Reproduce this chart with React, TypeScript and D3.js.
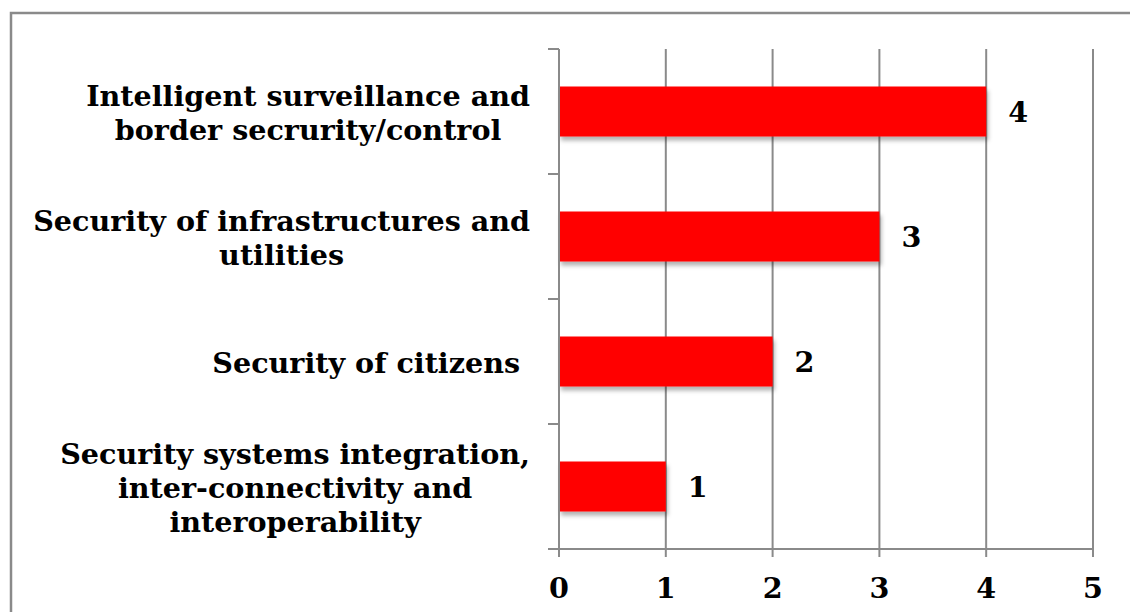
import React from "react";
import * as d3 from "d3";

const categories: string[] = [
  "Intelligent surveillance and\nborder secrurity/control",
  "Security of infrastructures and\nutilities",
  "Security of citizens ",
  "Security systems integration,\ninter-connectivity and\ninteroperability",
];
const values: number[] = [4, 3, 2, 1];
const xTicks: number[] = [0, 1, 2, 3, 4, 5];

const W = 1130;
const H = 612;
const FONT = "'DejaVu Serif', serif";
const FS = 28.6;
const LINE_H = 34;
const AXIS = "#8a8a8a";

function measure(text: string, size: number): number {
  if (typeof document === "undefined") return text.length * size * 0.6;
  const c = document.createElement("canvas");
  const ctx = c.getContext("2d");
  if (!ctx) return text.length * size * 0.6;
  ctx.font = `bold ${size}px 'DejaVu Serif', serif`;
  return ctx.measureText(text).width;
}

export default function App() {
  const x = d3.scaleLinear().domain([0, 5]).range([559, 1093]);
  const y = d3
    .scaleBand<string>()
    .domain(categories)
    .range([49, 549])
    .paddingInner(0.6)
    .paddingOuter(0.3);
  const step = y.step();
  const top = 49;
  const bottom = 549;
  const boundaries = d3.range(categories.length + 1).map((i) => top + i * step);
  const labelRight = 530;

  return (
    <div style={{ position: "fixed", left: 0, top: 0, width: W, height: H, background: "#fff" }}>
      <svg width={W} height={H} style={{ display: "block" }}>
        <defs>
          <filter id="shadow" x="-10%" y="-30%" width="130%" height="190%">
            <feDropShadow dx="2" dy="4" stdDeviation="2" floodColor="#000" floodOpacity="0.3" />
          </filter>
        </defs>
        <rect x={0} y={0} width={W} height={H} fill="#fff" />
        {/* outer frame */}
        <rect x={11} y={13} width={W + 20} height={H + 20} fill="none" stroke={AXIS} strokeWidth={2.5} />

        {/* gridlines */}
        {xTicks.filter((t) => t > 0).map((t) => (
          <line key={"g" + t} x1={x(t)} x2={x(t)} y1={top} y2={bottom} stroke={AXIS} strokeWidth={2} />
        ))}

        {/* bars */}
        {categories.map((c, i) => (
          <rect
            key={"b" + i}
            x={x(0)}
            y={y(c)!}
            width={x(values[i]) - x(0)}
            height={y.bandwidth()}
            fill="#ff0000"
            filter="url(#shadow)"
          />
        ))}

        {/* y axis */}
        <line x1={x(0)} x2={x(0)} y1={top} y2={bottom + 8} stroke={AXIS} strokeWidth={2} />
        {boundaries.map((b, i) => (
          <line key={"yt" + i} x1={548} x2={x(0)} y1={b} y2={b} stroke={AXIS} strokeWidth={2} />
        ))}
        {/* x axis */}
        <line x1={548} x2={x(5) + 1} y1={bottom} y2={bottom} stroke={AXIS} strokeWidth={2} />
        {xTicks.map((t) => (
          <line key={"xt" + t} x1={x(t)} x2={x(t)} y1={bottom} y2={bottom + 8} stroke={AXIS} strokeWidth={2} />
        ))}

        {/* x tick labels */}
        {xTicks.map((t) => (
          <text
            key={"xl" + t}
            x={x(t)}
            y={598}
            textAnchor="middle"
            fontFamily={FONT}
            fontWeight="bold"
            fontSize={FS}
            fill="#000"
          >
            {t}
          </text>
        ))}

        {/* value labels */}
        {categories.map((c, i) => (
          <text
            key={"v" + i}
            x={x(values[i]) + 22}
            y={y(c)! + y.bandwidth() / 2 + 10}
            fontFamily={FONT}
            fontWeight="bold"
            fontSize={FS}
            fill="#000"
          >
            {values[i]}
          </text>
        ))}

        {/* category labels */}
        {categories.map((c, i) => {
          const lines = c.split("\n");
          const maxW = d3.max(lines, (l) => measure(l, FS)) || 0;
          const cx = labelRight - maxW / 2;
          const center = y(c)! + y.bandwidth() / 2;
          const firstBaseline = center - ((lines.length - 1) * LINE_H) / 2 + 11;
          return (
            <text
              key={"c" + i}
              textAnchor="middle"
              fontFamily={FONT}
              fontWeight="bold"
              fontSize={FS}
              fill="#000"
              style={{ whiteSpace: "pre" }}
            >
              {lines.map((l, j) => (
                <tspan key={j} x={cx} y={firstBaseline + j * LINE_H}>
                  {l}
                </tspan>
              ))}
            </text>
          );
        })}
      </svg>
    </div>
  );
}
